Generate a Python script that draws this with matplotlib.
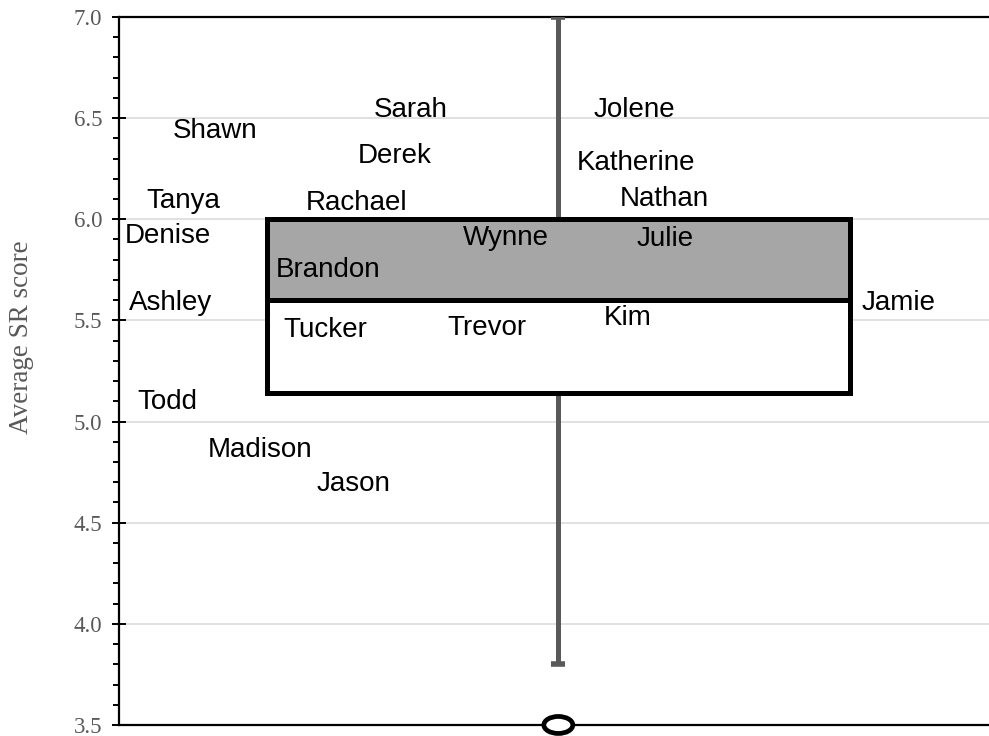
import numpy as np
import matplotlib
matplotlib.use("Agg")
import matplotlib.pyplot as plt
from matplotlib.patches import Ellipse
from matplotlib.ticker import MultipleLocator

# box plot summary (Average SR score)
q1 = 5.14
median = 5.6
q3 = 6.0
whisker_low = 3.8
whisker_high = 7.0
outliers = [3.5]

# name labels scattered over the plot (x in 0-100 axis units, y = score)
names = ["Shawn", "Sarah", "Jolene", "Derek", "Katherine", "Tanya", "Rachael",
         "Nathan", "Denise", "Wynne", "Julie", "Brandon", "Ashley", "Jamie",
         "Tucker", "Trevor", "Kim", "Todd", "Madison", "Jason"]
name_x = [6.2, 29.3, 54.6, 27.4, 52.6, 3.2, 21.5,
          57.6, 0.7, 39.5, 59.5, 18.0, 1.1, 85.4,
          18.9, 37.8, 55.7, 2.1, 10.2, 22.7]
name_y = [6.40, 6.505, 6.505, 6.277, 6.243, 6.054, 6.045,
          6.064, 5.881, 5.871, 5.866, 5.713, 5.55, 5.55,
          5.416, 5.426, 5.475, 5.06, 4.827, 4.658]

yticks = [3.5, 4.0, 4.5, 5.0, 5.5, 6.0, 6.5, 7.0]

box_x = 50.5
box_w = 67.0

fig = plt.figure(figsize=(9.89, 7.36), dpi=100)
ax = fig.add_axes([0.1203, 0.015, 0.8797, 0.962])

ax.set_xlim(0, 100)
ax.set_ylim(3.5, 7.0)

# grid
ax.set_axisbelow(True)
ax.yaxis.grid(True, color="#d9d9d9", lw=1.1, zorder=0)

# whisker (behind box, over spine)
ax.errorbar([box_x], [q3], yerr=[[q3 - whisker_low], [whisker_high - q3]],
            fmt="none", ecolor="#595959", elinewidth=3.6, capsize=5,
            capthick=4, zorder=2.6)

# lower and upper box
ax.bar(box_x, median - q1, width=box_w, bottom=q1, color="white",
       edgecolor="black", lw=3.6, zorder=3)
ax.bar(box_x, q3 - median, width=box_w, bottom=median, color="#a6a6a6",
       edgecolor="black", lw=3.6, zorder=3)

# outlier
for v in outliers:
    ax.add_patch(Ellipse((box_x, v), 3.33, 0.084, facecolor="white",
                         edgecolor="black", lw=3.4, zorder=4, clip_on=False))

for n, x, y in zip(names, name_x, name_y):
    ax.text(x, y, n, ha="left", va="baseline", fontsize=20,
            family=["Liberation Sans", "DejaVu Sans"], color="black", zorder=5)

# spines
for s in ["left", "top", "bottom"]:
    ax.spines[s].set_color("black")
    ax.spines[s].set_linewidth(1.6)
ax.spines["right"].set_visible(False)

ax.set_xticks([])
ax.set_yticks(yticks)
ax.set_yticklabels([f"{t:.1f}" for t in yticks])
ax.yaxis.set_minor_locator(MultipleLocator(0.1))
ax.tick_params(axis="y", which="major", direction="inout", length=10, width=1.4,
               pad=7, labelsize=16.5, labelcolor="#595959")
ax.tick_params(axis="y", which="minor", direction="out", length=4, width=1.4)
for lab in ax.get_yticklabels():
    lab.set_family(["Liberation Serif", "DejaVu Serif"])

fig.text(22 / 989, 1 - 337 / 736, "Average SR score", rotation=90,
         ha="center", va="center", fontsize=19.5, color="#595959",
         family=["Liberation Serif", "DejaVu Serif"])

fig.savefig("out.png", dpi=100)
